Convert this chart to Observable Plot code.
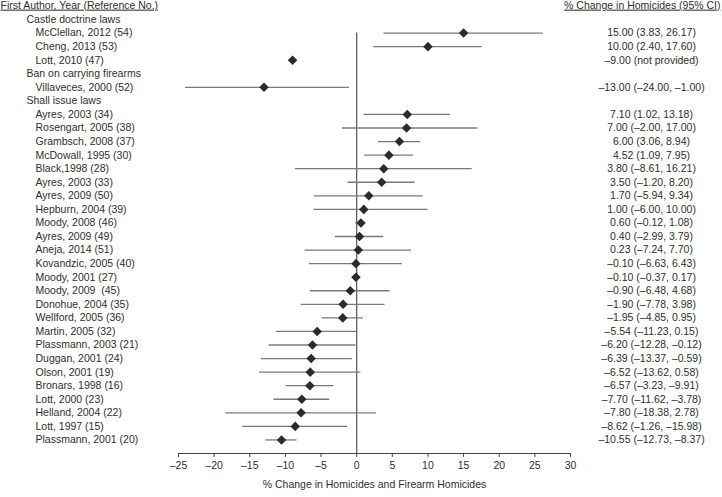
<!DOCTYPE html>
<html>
<head>
<meta charset="utf-8">
<script src="https://cdn.jsdelivr.net/npm/d3@7"></script>
<script src="https://cdn.jsdelivr.net/npm/@observablehq/plot@0.6"></script>
<style>
  html, body { margin: 0; padding: 0; background: #fff; }
  #chart { width: 722px; height: 497px; overflow: hidden; }
</style>
</head>
<body>
<div id="chart"></div>
<script>
const groupNames = ["Castle doctrine laws", "Ban on carrying firearms", "Shall issue laws"];
const studyNames = [
  "McClellan, 2012 (54)", "Cheng, 2013 (53)", "Lott, 2010 (47)",
  "Villaveces, 2000 (52)",
  "Ayres, 2003 (34)", "Rosengart, 2005 (38)", "Grambsch, 2008 (37)", "McDowall, 1995 (30)",
  "Black,1998 (28)", "Ayres, 2003 (33)", "Ayres, 2009 (50)", "Hepburn, 2004 (39)",
  "Moody, 2008 (46)", "Ayres, 2009 (49)", "Aneja, 2014 (51)", "Kovandzic, 2005 (40)",
  "Moody, 2001 (27)", "Moody, 2009  (45)", "Donohue, 2004 (35)", "Wellford, 2005 (36)",
  "Martin, 2005 (32)", "Plassmann, 2003 (21)", "Duggan, 2001 (24)", "Olson, 2001 (19)",
  "Bronars, 1998 (16)", "Lott, 2000 (23)", "Helland, 2004 (22)", "Lott, 1997 (15)",
  "Plassmann, 2001 (20)"
];
const studyGroup = [0,0,0, 1, 2,2,2,2,2,2,2,2,2,2,2,2,2,2,2,2,2,2,2,2,2,2,2,2,2];
const estimates = [15.00, 10.00, -9.00, -13.00, 7.10, 7.00, 6.00, 4.52, 3.80, 3.50, 1.70, 1.00,
  0.60, 0.40, 0.23, -0.10, -0.10, -0.90, -1.90, -1.95, -5.54, -6.20, -6.39, -6.52, -6.57,
  -7.70, -7.80, -8.62, -10.55];
const lowerCI = [3.83, 2.40, null, -24.00, 1.02, -2.00, 3.06, 1.09, -8.61, -1.20, -5.94, -6.00,
  -0.12, -2.99, -7.24, -6.63, -0.37, -6.48, -7.78, -4.85, -11.23, -12.28, -13.37, -13.62, -3.23,
  -11.62, -18.38, -1.26, -12.73];
const upperCI = [26.17, 17.60, null, -1.00, 13.18, 17.00, 8.94, 7.95, 16.21, 8.20, 9.34, 10.00,
  1.08, 3.79, 7.70, 6.43, 0.17, 4.68, 3.98, 0.95, 0.15, -0.12, -0.59, 0.58, -9.91,
  -3.78, 2.78, -15.98, -8.37];
const ciLabels = [
  "15.00 (3.83, 26.17)", "10.00 (2.40, 17.60)", "–9.00 (not provided)",
  "–13.00 (–24.00, –1.00)",
  "7.10 (1.02, 13.18)", "7.00 (–2.00, 17.00)", "6.00 (3.06, 8.94)", "4.52 (1.09, 7.95)",
  "3.80 (–8.61, 16.21)", "3.50 (–1.20, 8.20)", "1.70 (–5.94, 9.34)", "1.00 (–6.00, 10.00)",
  "0.60 (–0.12, 1.08)", "0.40 (–2.99, 3.79)", "0.23 (–7.24, 7.70)", "–0.10 (–6.63, 6.43)",
  "–0.10 (–0.37, 0.17)", "–0.90 (–6.48, 4.68)", "–1.90 (–7.78, 3.98)", "–1.95 (–4.85, 0.95)",
  "–5.54 (–11.23, 0.15)", "–6.20 (–12.28, –0.12)", "–6.39 (–13.37, –0.59)", "–6.52 (–13.62, 0.58)",
  "–6.57 (–3.23, –9.91)", "–7.70 (–11.62, –3.78)", "–7.80 (–18.38, 2.78)", "–8.62 (–1.26, –15.98)",
  "–10.55 (–12.73, –8.37)"
];
const xTicks = [-25, -20, -15, -10, -5, 0, 5, 10, 15, 20, 25, 30];
const leftHeader = "First Author, Year (Reference No.)";
const rightHeader = "% Change in Homicides (95% CI)";
const xLabel = "% Change in Homicides and Firearm Homicides";

// Build rows: group header followed by its studies
const headerRows = [];
const studyRows = [];
let row = 0;
groupNames.forEach((g, gi) => {
  headerRows.push({row: row++, label: g});
  studyNames.forEach((s, i) => {
    if (studyGroup[i] !== gi) return;
    studyRows.push({
      row: row++, label: s, est: estimates[i],
      lo: lowerCI[i] == null ? null : Math.min(lowerCI[i], upperCI[i]),
      hi: upperCI[i] == null ? null : Math.max(lowerCI[i], upperCI[i]),
      ci: ciLabels[i]
    });
  });
});
const lastRow = row; // axis position

const chart = Plot.plot({
  width: 722,
  height: 497,
  marginLeft: 178,
  marginRight: 152,
  marginTop: 19,
  marginBottom: 44,
  style: {fontFamily: "'Liberation Sans', Arial, sans-serif", fontSize: "10.5px", color: "#2e2e2e", background: "#fff"},
  x: {domain: [-25, 30]},
  y: {domain: [0, lastRow], reverse: true, axis: null},
  marks: [
    Plot.ruleX([0], {y1: 1, y2: lastRow, stroke: "#555", strokeWidth: 1.2}),
    Plot.ruleY(studyRows.filter(d => d.lo != null), {y: "row", x1: "lo", x2: "hi", stroke: "#7a7a7a", strokeWidth: 1.3}),
    Plot.dot(studyRows, {x: "est", y: "row", symbol: "diamond2", r: 4.3, fill: "#2b2b2b", stroke: "none"}),
    Plot.text(headerRows, {y: "row", text: "label", frameAnchor: "left", dx: -152, textAnchor: "start", fill: "#2e2e2e"}),
    Plot.text(studyRows, {y: "row", text: "label", frameAnchor: "left", dx: -143, textAnchor: "start", fill: "#2e2e2e"}),
    Plot.text(studyRows, {y: "row", text: "ci", frameAnchor: "right", dx: 81, textAnchor: "middle", fill: "#2e2e2e"}),
    Plot.text([leftHeader], {y: -1.05, text: d => d, frameAnchor: "left", dx: -178, textAnchor: "start", fill: "#2e2e2e"}),
    Plot.text([rightHeader], {y: -1.05, text: d => d, frameAnchor: "right", dx: 150, textAnchor: "end", fill: "#2e2e2e"}),
    Plot.ruleY([lastRow], {stroke: "#444", strokeWidth: 1}),
    Plot.axisX({
      ticks: xTicks, tickSize: 4, tickPadding: 4, stroke: "#444",
      tickFormat: d => d < 0 ? "–" + (-d) : String(d),
      label: xLabel, labelAnchor: "center", labelArrow: "none", labelOffset: 34
    })
  ]
});
d3.select(chart).selectAll("text").each(function() {
  const t = this.textContent;
  if (t === leftHeader || t === rightHeader) this.setAttribute("text-decoration", "underline");
});
document.getElementById("chart").appendChild(chart);
</script>
</body>
</html>
